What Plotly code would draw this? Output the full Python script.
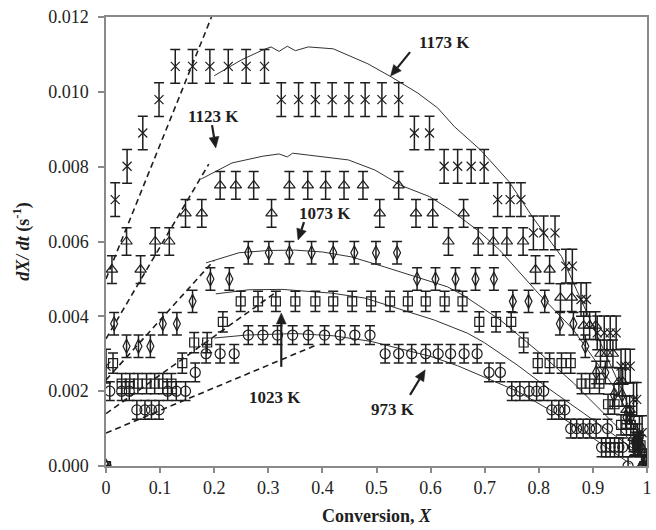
import math
import plotly.graph_objects as go

# ---- measured rates dX/dt (s^-1) against conversion X ----
x_973 = [0, 0.007, 0.029, 0.043, 0.057, 0.072, 0.084, 0.098, 0.114, 0.130, 0.147, 0.165,
         0.185, 0.211, 0.237, 0.263, 0.290, 0.317, 0.345, 0.374, 0.404, 0.433, 0.460, 0.488,
         0.516, 0.541, 0.565, 0.591, 0.614, 0.637, 0.662, 0.686, 0.708, 0.729,
         0.750, 0.765, 0.782, 0.796, 0.809, 0.824, 0.837, 0.848,
         0.859, 0.870, 0.882, 0.894, 0.906, 0.916, 0.924, 0.927, 0.932, 0.940, 0.948, 0.955,
         0.965, 0.975, 0.985, 0.993, 1.0]
y_973 = [0, 0.0020, 0.0020, 0.0020, 0.0015, 0.0015, 0.0015, 0.0015, 0.0020, 0.0020, 0.0020, 0.0025,
         0.0030, 0.0030, 0.0030, 0.0035, 0.0035, 0.0035, 0.0035, 0.0035, 0.0035, 0.0035, 0.0035, 0.0035,
         0.0030, 0.0030, 0.0030, 0.0030, 0.0030, 0.0030, 0.0030, 0.0030, 0.0025, 0.0025,
         0.0020, 0.0020, 0.0020, 0.0020, 0.0020, 0.0015, 0.0015, 0.0015,
         0.0010, 0.0010, 0.0010, 0.0010, 0.0010, 0.0005, 0.0005, 0.0010, 0.0005, 0.0005, 0.0005, 0.0005,
         0, 0.0005, 0.0005, 0, 0]

x_1023 = [0, 0.013, 0.029, 0.044, 0.059, 0.075, 0.090, 0.105, 0.121, 0.141, 0.163, 0.187, 0.216,
          0.249, 0.281, 0.314, 0.350, 0.387, 0.420, 0.455, 0.490, 0.525, 0.558, 0.591, 0.626, 0.659,
          0.690, 0.721, 0.749, 0.772, 0.798, 0.820, 0.842, 0.859, 0.879, 0.894, 0.912,
          0.928, 0.940, 0.952, 0.962, 0.970, 0.976, 0.982, 0.988, 0.995, 1.0]
y_1023 = [0, 0.00275, 0.0022, 0.0022, 0.0022, 0.0022, 0.0022, 0.0022, 0.0022, 0.00275, 0.0033, 0.0033, 0.00385,
          0.0044, 0.0044, 0.0044, 0.0044, 0.0044, 0.0044, 0.0044, 0.0044, 0.0044, 0.0044, 0.0044, 0.0044, 0.0044,
          0.00385, 0.00385, 0.00385, 0.0033, 0.00275, 0.00275, 0.00275, 0.00275, 0.0022, 0.0022, 0.0022,
          0.00165, 0.00165, 0.0011, 0.0011, 0.0011, 0.00055, 0.00055, 0.00055, 0, 0]

x_1073 = [0, 0.015, 0.038, 0.060, 0.082, 0.105, 0.131, 0.160, 0.193, 0.228,
          0.263, 0.301, 0.339, 0.380, 0.420, 0.459, 0.499, 0.538,
          0.575, 0.609, 0.646, 0.683, 0.717, 0.752, 0.781, 0.811, 0.839, 0.864, 0.886,
          0.906, 0.923, 0.939, 0.954, 0.962, 0.970, 0.978, 0.985, 0.993, 1.0]
y_1073 = [0, 0.0038, 0.0032, 0.0032, 0.0032, 0.0038, 0.0038, 0.0044, 0.0050, 0.0050,
          0.0057, 0.0057, 0.0057, 0.0057, 0.0057, 0.0057, 0.0057, 0.0057,
          0.0050, 0.0050, 0.0050, 0.0050, 0.0050, 0.0044, 0.0044, 0.0044, 0.0038, 0.0038, 0.0032,
          0.0025, 0.0025, 0.0019, 0.0019, 0.0013, 0.0013, 0.0006, 0.0006, 0, 0]

x_1123 = [0, 0.011, 0.038, 0.064, 0.091, 0.117, 0.147, 0.177, 0.211, 0.240, 0.273, 0.306,
          0.339, 0.373, 0.406, 0.440, 0.475, 0.506, 0.541, 0.573, 0.604, 0.633, 0.661,
          0.688, 0.716, 0.741, 0.771, 0.794, 0.820, 0.840, 0.861, 0.883, 0.894, 0.905,
          0.914, 0.926, 0.937, 0.948, 0.955, 0.962, 0.968, 0.975, 0.982, 0.990, 1.0]
y_1123 = [0, 0.00525, 0.0060, 0.00525, 0.0060, 0.0060, 0.00675, 0.00675, 0.0075, 0.0075, 0.0075, 0.00675,
          0.0075, 0.0075, 0.0075, 0.0075, 0.0075, 0.00675, 0.0075, 0.00675, 0.00675, 0.0060, 0.00675,
          0.0060, 0.0060, 0.0060, 0.0060, 0.00525, 0.00525, 0.0045, 0.0045, 0.00375, 0.00375, 0.00375,
          0.0030, 0.0030, 0.0030, 0.00225, 0.00225, 0.0015, 0.0015, 0.00075, 0.00075, 0, 0]

x_1173 = [0, 0.0, 0.017, 0.039, 0.068, 0.098, 0.128, 0.160, 0.192, 0.226, 0.259, 0.293,
          0.324, 0.356, 0.387, 0.418, 0.449, 0.479, 0.510, 0.541, 0.570, 0.598,
          0.625, 0.650, 0.675, 0.699, 0.724, 0.747, 0.767, 0.790, 0.809, 0.830,
          0.850, 0.862, 0.878, 0.888, 0.908, 0.921, 0.932, 0.943, 0.952, 0.960, 0.969,
          0.975, 0.981, 0.986, 0.991, 0.996, 1.0]
y_1173 = [0, 0.00267, 0.00712, 0.00801, 0.0089, 0.00979, 0.01068, 0.01068, 0.01068, 0.01068, 0.01068, 0.01068,
          0.00979, 0.00979, 0.00979, 0.00979, 0.00979, 0.00979, 0.00979, 0.00979, 0.0089, 0.0089,
          0.00801, 0.00801, 0.00801, 0.00801, 0.00712, 0.00712, 0.00712, 0.00623, 0.00623, 0.00623,
          0.00534, 0.00534, 0.00445, 0.00445, 0.00356, 0.00356, 0.00356, 0.00356, 0.00267, 0.00267, 0.00267,
          0.00178, 0.00178, 0.00089, 0.00089, 0, 0]

# half-widths of the error bars for each temperature
err_973, err_1023, err_1073, err_1123, err_1173 = 0.00025, 0.00027, 0.0003, 0.00037, 0.00045

# ---- model curves (solid) ----
mx_973 = [0.20, 0.26, 0.35, 0.42, 0.49, 0.55, 0.60, 0.65, 0.70, 0.76, 0.82, 0.88, 0.93, 0.97]
my_973 = [0.00342, 0.00350, 0.00354, 0.00348, 0.00333, 0.00312, 0.00293, 0.00268, 0.00238,
          0.00200, 0.00150, 0.00095, 0.00045, 0.00005]
mx_1023 = [0.203, 0.264, 0.325, 0.417, 0.478, 0.539, 0.607, 0.668, 0.699, 0.76, 0.82, 0.882, 0.943, 1.0]
my_1023 = [0.00460, 0.00471, 0.00472, 0.00462, 0.00449, 0.00422, 0.00390, 0.00355, 0.00330,
           0.00270, 0.00205, 0.00142, 0.00078, 0.00020]
mx_1073 = [0.185, 0.246, 0.30, 0.35, 0.40, 0.453, 0.515, 0.576, 0.631, 0.662, 0.729, 0.802, 0.864, 0.938, 0.995]
my_1073 = [0.00543, 0.00570, 0.00576, 0.00577, 0.00572, 0.00559, 0.00532, 0.00505, 0.00479, 0.00455,
           0.00390, 0.00302, 0.00222, 0.00115, 0.00030]
mx_1123 = [0.176, 0.233, 0.29, 0.32, 0.335, 0.345, 0.374, 0.448, 0.497, 0.545, 0.598, 0.637, 0.686,
           0.727, 0.80, 0.864, 0.943, 1.0]
my_1123 = [0.00767, 0.00810, 0.00828, 0.00834, 0.00826, 0.00836, 0.00831, 0.00818, 0.00791, 0.00750,
           0.00720, 0.00684, 0.00631, 0.00578, 0.00460, 0.00364, 0.00203, 0.00040]
mx_1173 = [0.20, 0.25, 0.29, 0.305, 0.32, 0.335, 0.35, 0.374, 0.42, 0.484, 0.527, 0.576, 0.613,
           0.644, 0.692, 0.745, 0.79, 0.842, 0.906, 0.956, 1.0]
my_1173 = [0.01043, 0.01085, 0.01112, 0.01120, 0.01108, 0.01122, 0.01110, 0.01120, 0.01115, 0.01075,
           0.01040, 0.00997, 0.00957, 0.00907, 0.00845, 0.00760, 0.00662, 0.00560, 0.00355, 0.00195, 0.00035]

# ---- initial-rate straight lines (dashed): [start, end] ----
dx_973, dy_973 = [0, 0.39], [0.00088, 0.00324]
dx_1023, dy_1023 = [0, 0.31], [0.00140, 0.00460]
dx_1073, dy_1073 = [0, 0.20], [0.00230, 0.00550]
dx_1123, dy_1123 = [0, 0.19], [0.00340, 0.00807]
dx_1173, dy_1173 = [0, 0.195], [0.00500, 0.01200]

INK = "#1e1e1e"
AXIS = "#8a8a8a"
SERIF = "Liberation Serif, Times New Roman, serif"

W, H = 656, 530
MARGIN = dict(l=106, r=4, t=17, b=64)
X_RANGE = [0, 1]
Y_RANGE = [0, 0.012]
# pixels per data unit, used to shape the arrowheads
PX_X = (W - MARGIN["l"] - MARGIN["r"]) / (X_RANGE[1] - X_RANGE[0])
PX_Y = (H - MARGIN["t"] - MARGIN["b"]) / (Y_RANGE[1] - Y_RANGE[0])

series = [
    (x_973, y_973, err_973, "circle-open", 10, "973 K"),
    (x_1023, y_1023, err_1023, "square-open", 9, "1023 K"),
    (x_1073, y_1073, err_1073, "diamond-tall-open", 10, "1073 K"),
    (x_1123, y_1123, err_1123, "triangle-up-open", 10, "1123 K"),
    (x_1173, y_1173, err_1173, "x-thin-open", 9, "1173 K"),
]
models = [(mx_973, my_973), (mx_1023, my_1023), (mx_1073, my_1073), (mx_1123, my_1123), (mx_1173, my_1173)]
dashes = [(dx_973, dy_973), (dx_1023, dy_1023), (dx_1073, dy_1073), (dx_1123, dy_1123), (dx_1173, dy_1173)]

fig = go.Figure()

for xs, ys in dashes:
    fig.add_trace(go.Scatter(x=xs, y=ys, mode="lines", showlegend=False, hoverinfo="skip",
                             line=dict(color=INK, width=1.6, dash="6px,4px")))

for xs, ys in models:
    fig.add_trace(go.Scatter(x=xs, y=ys, mode="lines", showlegend=False, hoverinfo="skip",
                             line=dict(color="#333333", width=1)))

for xs, ys, err, sym, size, name in series:
    errs = [0 if v == 0 and i == 0 else err for i, v in enumerate(ys)]
    fig.add_trace(go.Scatter(
        x=xs, y=ys, mode="markers", name=name, showlegend=False,
        marker=dict(symbol=sym, size=size, color=INK, line=dict(color=INK, width=1.2)),
        error_y=dict(type="data", array=errs, visible=True, color=INK, thickness=1.5, width=5),
    ))

# temperature labels (text position) and arrows (tail -> head)
labels = [
    ("1173 K", 0.625, 0.01133, 0.562, 0.01106, 0.526, 0.01042),
    ("1123 K", 0.198, 0.00933, 0.196, 0.00911, 0.203, 0.00850),
    ("1073 K", 0.405, 0.00676, 0.366, 0.00652, 0.355, 0.00604),
    ("1023 K", 0.313, 0.00184, 0.324, 0.00265, 0.324, 0.00409),
    ("973 K", 0.531, 0.00150, 0.562, 0.00190, 0.590, 0.00257),
]


def arrow_shapes(tx, ty, hx, hy, head_len=11, head_half=5):
    """Shaft line plus a filled arrowhead, built in data coordinates."""
    dxp = (hx - tx) * PX_X
    dyp = (hy - ty) * PX_Y
    n = math.hypot(dxp, dyp)
    ux, uy = dxp / n, dyp / n
    bx, by = hx - ux * head_len / PX_X, hy - uy * head_len / PX_Y
    px, py = -uy, ux
    p1 = (bx + px * head_half / PX_X, by + py * head_half / PX_Y)
    p2 = (bx - px * head_half / PX_X, by - py * head_half / PX_Y)
    shaft = dict(type="line", xref="x", yref="y", x0=tx, y0=ty, x1=bx, y1=by,
                 line=dict(color=INK, width=2.2))
    head = dict(type="path", xref="x", yref="y",
                path=f"M {hx},{hy} L {p1[0]},{p1[1]} L {p2[0]},{p2[1]} Z",
                fillcolor=INK, line=dict(color=INK, width=0.5))
    return [shaft, head]


annotations, shapes = [], []
for text, lx, ly, tx, ty, hx, hy in labels:
    annotations.append(dict(x=lx, y=ly, xref="x", yref="y", text=f"<b>{text}</b>", showarrow=False,
                            font=dict(family=SERIF, size=17, color=INK)))
    shapes.extend(arrow_shapes(tx, ty, hx, hy))

fig.update_layout(
    width=W, height=H,
    margin=MARGIN,
    paper_bgcolor="white", plot_bgcolor="white",
    font=dict(family=SERIF, size=18, color="#222222"),
    annotations=annotations,
    shapes=shapes,
    xaxis=dict(range=X_RANGE, dtick=0.1, tick0=0, showgrid=False, zeroline=False,
               showline=True, mirror=True, linecolor=AXIS, linewidth=1.5,
               ticks="outside", ticklen=5, tickcolor=AXIS, tickwidth=1.5,
               tickfont=dict(family=SERIF, size=18, color="#222222"),
               title=dict(text="<b>Conversion, <i>X</i></b>", standoff=12,
                          font=dict(family=SERIF, size=18, color=INK))),
    yaxis=dict(range=Y_RANGE, dtick=0.002, tick0=0, tickformat=".3f", showgrid=False, zeroline=False,
               showline=True, mirror=True, linecolor=AXIS, linewidth=1.5,
               ticks="outside", ticklen=6, tickcolor=AXIS, tickwidth=1.5,
               ticklabelstandoff=6,
               tickfont=dict(family=SERIF, size=18, color="#222222"),
               title=dict(text="<b><i>dX/ dt</i> (s<sup>-1</sup>)</b>", standoff=14,
                          font=dict(family=SERIF, size=18, color=INK))),
)

fig.write_html("out.html")
